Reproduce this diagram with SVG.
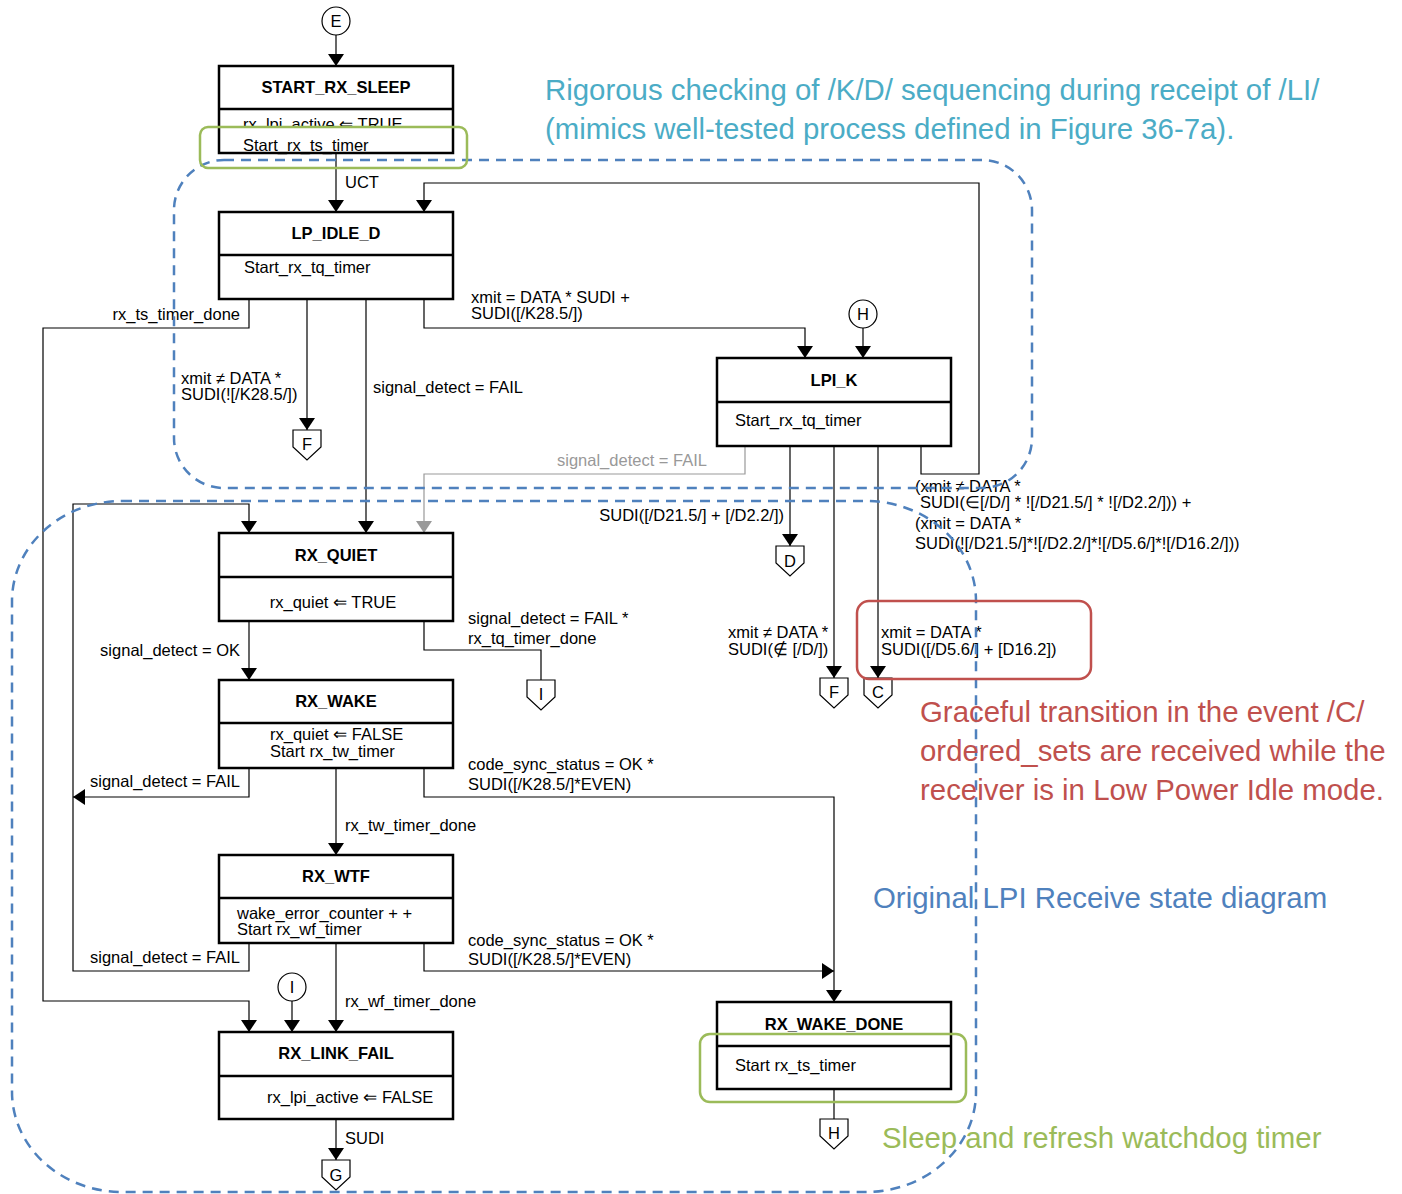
<svg xmlns="http://www.w3.org/2000/svg" width="1402" height="1194" viewBox="0 0 1402 1194">
<defs>
<style>
.box{fill:#fff;stroke:#000;stroke-width:2.5}
.div{stroke:#000;stroke-width:2.5}
.t{font-family:"Liberation Sans",Arial,sans-serif;font-size:16.5px;fill:#000}
.b{font-family:"Liberation Sans",Arial,sans-serif;font-size:16.5px;font-weight:bold;fill:#000}
.c{fill:none;stroke:#000;stroke-width:1.2}
.g{fill:none;stroke:#999;stroke-width:1.2}
.gt{font-family:"Liberation Sans",Arial,sans-serif;font-size:16.5px;fill:#999}
.off{fill:#fff;stroke:#000;stroke-width:1.2}
.big{font-family:"Liberation Sans",Arial,sans-serif;font-size:29.4px}
.dash{fill:none;stroke:#4F81BD;stroke-width:2.5;stroke-dasharray:10 7}
</style>
<marker id="ah" viewBox="0 0 12 16" refX="12" refY="8" markerWidth="12" markerHeight="16" markerUnits="userSpaceOnUse" orient="auto"><path d="M0,0 L12,8 L0,16 Z" fill="#000"/></marker>
<marker id="ahg" viewBox="0 0 12 16" refX="12" refY="8" markerWidth="12" markerHeight="16" markerUnits="userSpaceOnUse" orient="auto"><path d="M0,0 L12,8 L0,16 Z" fill="#999"/></marker>
<clipPath id="clip1"><rect x="219" y="110" width="234" height="17"/></clipPath>
</defs>
<rect width="1402" height="1194" fill="#fff"/>

<g id="connectors">
<path class="c" d="M336,35 V66" marker-end="url(#ah)"/>
<path class="c" d="M336,153 V212" marker-end="url(#ah)"/>
<path class="c" d="M921,446 V474 H979 V183 H424 V212" marker-end="url(#ah)"/>
<path class="c" d="M863,328 V358" marker-end="url(#ah)"/>
<path class="c" d="M424,299 V328 H805 V358" marker-end="url(#ah)"/>
<path class="c" d="M249,299 V328 H43 V1001 H249 V1032" marker-end="url(#ah)"/>
<path class="c" d="M307,299 V430" marker-end="url(#ah)"/>
<path class="c" d="M366,299 V533" marker-end="url(#ah)"/>
<path class="g" d="M745,446 V474 H424 V533" marker-end="url(#ahg)"/>
<path class="c" d="M790,446 V546" marker-end="url(#ah)"/>
<path class="c" d="M834,446 V678" marker-end="url(#ah)"/>
<path class="c" d="M878,446 V678" marker-end="url(#ah)"/>
<path class="c" d="M249,943 V971 H73 V504 H249 V533" marker-end="url(#ah)"/>
<path class="c" d="M249,621 V680" marker-end="url(#ah)"/>
<path class="c" d="M424,621 V650 H541 V680"/>
<path class="c" d="M249,768 V797 H73" marker-end="url(#ah)"/>
<path class="c" d="M336,768 V855" marker-end="url(#ah)"/>
<path class="c" d="M424,768 V797 H834 V1002" marker-end="url(#ah)"/>
<path class="c" d="M424,943 V971 H834" marker-end="url(#ah)"/>
<path class="c" d="M336,943 V1032" marker-end="url(#ah)"/>
<path class="c" d="M292,1001 V1032" marker-end="url(#ah)"/>
<path class="c" d="M336,1119 V1160" marker-end="url(#ah)"/>
<path class="c" d="M834,1089 V1119"/>

<text class="t" x="345" y="188">UCT</text>
<text class="t" x="240" y="320" text-anchor="end">rx_ts_timer_done</text>
<text class="t" x="471" y="303">xmit = DATA * SUDI  +</text>
<text class="t" x="471" y="319">SUDI([/K28.5/])</text>
<text class="t" x="181" y="384">xmit ≠ DATA *</text>
<text class="t" x="181" y="400">SUDI(![/K28.5/])</text>
<text class="t" x="373" y="393">signal_detect = FAIL</text>
<text class="gt" x="557" y="466">signal_detect = FAIL</text>
<text class="t" x="784" y="521" text-anchor="end">SUDI([/D21.5/] + [/D2.2/])</text>
<text class="t" x="915" y="492">(xmit ≠ DATA *</text>
<text class="t" x="920" y="508">SUDI(∈[/D/] * ![/D21.5/] * ![/D2.2/])) +</text>
<text class="t" x="915" y="529">(xmit = DATA *</text>
<text class="t" x="915" y="549">SUDI(![/D21.5/]*![/D2.2/]*![/D5.6/]*![/D16.2/]))</text>
<text class="t" x="728" y="638">xmit ≠ DATA *</text>
<text class="t" x="728" y="655">SUDI(∉ [/D/])</text>
<text class="t" x="881" y="638">xmit = DATA *</text>
<text class="t" x="881" y="655">SUDI([/D5.6/] + [D16.2])</text>
<text class="t" x="240" y="656" text-anchor="end">signal_detect = OK</text>
<text class="t" x="468" y="624">signal_detect = FAIL *</text>
<text class="t" x="468" y="644">rx_tq_timer_done</text>
<text class="t" x="240" y="787" text-anchor="end">signal_detect = FAIL</text>
<text class="t" x="468" y="770">code_sync_status = OK *</text>
<text class="t" x="468" y="790">SUDI([/K28.5/]*EVEN)</text>
<text class="t" x="345" y="831">rx_tw_timer_done</text>
<text class="t" x="240" y="963" text-anchor="end">signal_detect = FAIL</text>
<text class="t" x="468" y="946">code_sync_status = OK *</text>
<text class="t" x="468" y="965">SUDI([/K28.5/]*EVEN)</text>
<text class="t" x="345" y="1007">rx_wf_timer_done</text>
<text class="t" x="345" y="1144">SUDI</text>
</g>

<g id="E"><circle class="off" cx="336" cy="21" r="14"/><text class="t" x="336" y="27" text-anchor="middle">E</text></g>
<g id="H_in"><circle class="off" cx="863" cy="314" r="14"/><text class="t" x="863" y="320" text-anchor="middle">H</text></g>
<g id="I_in"><circle class="off" cx="292" cy="987" r="14"/><text class="t" x="292" y="993" text-anchor="middle">I</text></g>

<g id="START_RX_SLEEP">
<rect class="box" x="219" y="66" width="234" height="87"/>
<line class="div" x1="219" y1="109" x2="453" y2="109"/>
<text class="b" x="336" y="93" text-anchor="middle">START_RX_SLEEP</text>
<text class="t" x="243" y="130" clip-path="url(#clip1)">rx_lpi_active ⇐ TRUE</text>
<text class="t" x="243" y="151">Start_rx_ts_timer</text>
</g>
<g id="LP_IDLE_D">
<rect class="box" x="219" y="212" width="234" height="87"/>
<line class="div" x1="219" y1="255" x2="453" y2="255"/>
<text class="b" x="336" y="239" text-anchor="middle">LP_IDLE_D</text>
<text class="t" x="244" y="273">Start_rx_tq_timer</text>
</g>
<g id="LPI_K">
<rect class="box" x="717" y="358" width="234" height="88"/>
<line class="div" x1="717" y1="402" x2="951" y2="402"/>
<text class="b" x="834" y="386" text-anchor="middle">LPI_K</text>
<text class="t" x="735" y="426">Start_rx_tq_timer</text>
</g>
<g id="RX_QUIET">
<rect class="box" x="219" y="533" width="234" height="88"/>
<line class="div" x1="219" y1="577" x2="453" y2="577"/>
<text class="b" x="336" y="561" text-anchor="middle">RX_QUIET</text>
<text class="t" x="333" y="608" text-anchor="middle">rx_quiet ⇐ TRUE</text>
</g>
<g id="RX_WAKE">
<rect class="box" x="219" y="680" width="234" height="88"/>
<line class="div" x1="219" y1="723" x2="453" y2="723"/>
<text class="b" x="336" y="707" text-anchor="middle">RX_WAKE</text>
<text class="t" x="270" y="740">rx_quiet ⇐ FALSE</text>
<text class="t" x="270" y="757">Start rx_tw_timer</text>
</g>
<g id="RX_WTF">
<rect class="box" x="219" y="855" width="234" height="88"/>
<line class="div" x1="219" y1="898" x2="453" y2="898"/>
<text class="b" x="336" y="882" text-anchor="middle">RX_WTF</text>
<text class="t" x="237" y="919">wake_error_counter + +</text>
<text class="t" x="237" y="935">Start rx_wf_timer</text>
</g>
<g id="RX_LINK_FAIL">
<rect class="box" x="219" y="1032" width="234" height="87"/>
<line class="div" x1="219" y1="1076" x2="453" y2="1076"/>
<text class="b" x="336" y="1059" text-anchor="middle">RX_LINK_FAIL</text>
<text class="t" x="267" y="1103">rx_lpi_active ⇐ FALSE</text>
</g>
<g id="RX_WAKE_DONE">
<rect class="box" x="717" y="1002" width="234" height="87"/>
<line class="div" x1="717" y1="1046" x2="951" y2="1046"/>
<text class="b" x="834" y="1030" text-anchor="middle">RX_WAKE_DONE</text>
<text class="t" x="735" y="1071">Start rx_ts_timer</text>
</g>

<g id="F1"><path class="off" d="M293,430 H321 V447 L307,460 L293,447 Z"/><text class="t" x="307" y="450" text-anchor="middle">F</text></g>
<g id="D"><path class="off" d="M776,546 H804 V563 L790,576 L776,563 Z"/><text class="t" x="790" y="567" text-anchor="middle">D</text></g>
<g id="I_out"><path class="off" d="M527,680 H555 V697 L541,710 L527,697 Z"/><text class="t" x="541" y="700" text-anchor="middle">I</text></g>
<g id="F2"><path class="off" d="M820,678 H848 V695 L834,708 L820,695 Z"/><text class="t" x="834" y="698" text-anchor="middle">F</text></g>
<g id="C"><path class="off" d="M864,678 H892 V695 L878,708 L864,695 Z"/><text class="t" x="878" y="698" text-anchor="middle">C</text></g>
<g id="G"><path class="off" d="M322,1160 H350 V1177 L336,1190 L322,1177 Z"/><text class="t" x="336" y="1181" text-anchor="middle">G</text></g>
<g id="H_out"><path class="off" d="M820,1119 H848 V1136 L834,1149 L820,1136 Z"/><text class="t" x="834" y="1139" text-anchor="middle">H</text></g>

<g id="annotations">
<rect class="dash" x="174" y="160" width="858" height="328" rx="50" ry="50"/>
<rect class="dash" x="12" y="501" width="964" height="691" rx="110" ry="100"/>
<rect x="200" y="127" width="267" height="41" rx="8" fill="none" stroke="#9BBB59" stroke-width="2.5"/>
<rect x="700" y="1034" width="266" height="68" rx="10" fill="none" stroke="#9BBB59" stroke-width="2.5"/>
<rect x="857" y="601" width="234" height="78" rx="12" fill="none" stroke="#C0504D" stroke-width="2.5"/>
<text class="big" x="545" y="100" fill="#4BACC6">Rigorous checking of /K/D/ sequencing during receipt of /LI/</text>
<text class="big" x="545" y="139" fill="#4BACC6">(mimics well-tested process defined in Figure 36-7a).</text>
<text class="big" x="920" y="722" fill="#C0504D">Graceful transition in the event /C/</text>
<text class="big" x="920" y="761" fill="#C0504D">ordered_sets are received while the</text>
<text class="big" x="920" y="800" fill="#C0504D">receiver is in Low Power Idle mode.</text>
<text class="big" x="873" y="908" fill="#4F81BD">Original LPI Receive state diagram</text>
<text class="big" x="882" y="1148" fill="#9BBB59">Sleep and refresh watchdog timer</text>
</g>
</svg>
